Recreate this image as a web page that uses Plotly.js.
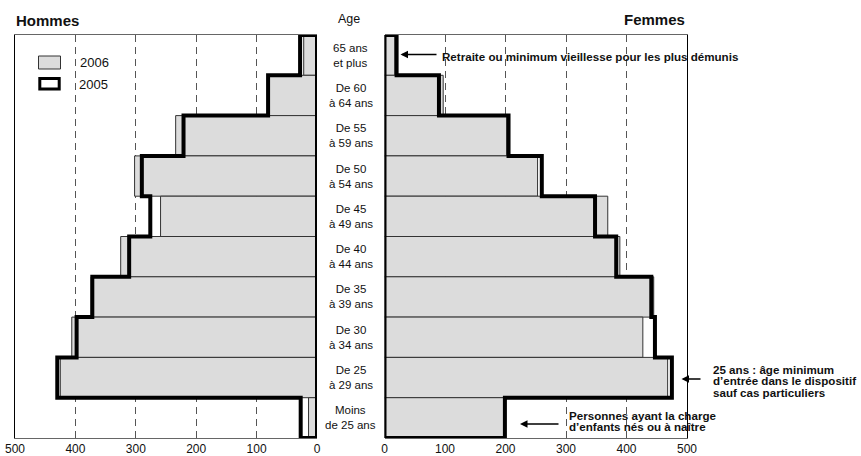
<!DOCTYPE html>
<html>
<head>
<meta charset="utf-8">
<script src="https://cdn.plot.ly/plotly-3.0.1.min.js"></script>
<style>html,body{margin:0;padding:0;background:#fff;}#chart{width:861px;height:456px;}</style>
</head>
<body>
<div id="chart"></div>
<script>
// ---- data ----
const ageLabels = ['65 ans<br>et plus','De 60<br>à 64 ans','De 55<br>à 59 ans','De 50<br>à 54 ans','De 45<br>à 49 ans',
                   'De 40<br>à 44 ans','De 35<br>à 39 ans','De 30<br>à 34 ans','De 25<br>à 29 ans','Moins<br>de 25 ans'];
const hommes2006 = [22, 82, 234, 302, 259, 325, 374, 406, 425, 14];
const hommes2005 = [28, 81, 221, 290, 276, 311, 372, 398, 430, 27];
const femmes2006 = [17, 97, 202, 253, 369, 389, 445, 427, 468, 197];
const femmes2005 = [20, 90, 205, 260, 348, 383, 441, 447, 475, 199];
const tickValues = [0, 100, 200, 300, 400, 500];
const seriesNames = ['2006', '2005'];

// ---- helpers ----
const W = 861, H = 456, ML = 15, MR = 174, MT = 35, MB = 18;
const PW = W - ML - MR, PH = H - MT - MB;
const px = x => (x - ML) / PW;
const py = y => (H - MB - y) / PH;
const rows = ageLabels.map((_, i) => i);

function outline(vals) {
  const xs = [0], ys = [-0.5];
  vals.forEach((v, i) => { xs.push(v, v); ys.push(i - 0.5, i + 0.5); });
  xs.push(0, 0, vals[0]); ys.push(vals.length - 0.5, -0.5, -0.5);
  return {xs, ys};
}

const barStyle = {color: '#dcdcdc', line: {color: '#333', width: 1}};
const h05 = outline(hommes2005), f05 = outline(femmes2005);

const traces = [
  {type: 'bar', orientation: 'h', x: hommes2006, y: rows, width: 1, marker: barStyle, xaxis: 'x', yaxis: 'y', name: seriesNames[0], hoverinfo: 'x'},
  {type: 'bar', orientation: 'h', x: femmes2006, y: rows, width: 1, marker: barStyle, xaxis: 'x2', yaxis: 'y2', name: seriesNames[0], hoverinfo: 'x'},
  {type: 'scatter', mode: 'lines', x: h05.xs, y: h05.ys, line: {color: '#000', width: 4, simplify: false}, cliponaxis: false, xaxis: 'x', yaxis: 'y', name: seriesNames[1], hoverinfo: 'skip'},
  {type: 'scatter', mode: 'lines', x: f05.xs, y: f05.ys, line: {color: '#000', width: 4, simplify: false}, cliponaxis: false, xaxis: 'x2', yaxis: 'y2', name: seriesNames[1], hoverinfo: 'skip'}
];

const xCommon = {
  tickvals: tickValues, ticktext: tickValues.map(String), showgrid: true, gridcolor: '#555', griddash: '7px,5px', gridwidth: 1,
  zeroline: false, showline: true, linecolor: '#666', linewidth: 1, mirror: true, ticks: '', ticklabelstandoff: 0,
  tickfont: {family: 'Liberation Sans, Arial, sans-serif', size: 12, color: '#111'}, fixedrange: true
};
const yCommon = {range: [9.5, -0.5], showgrid: false, zeroline: false, showticklabels: false, ticks: '', showline: true, linecolor: '#000', linewidth: 1, fixedrange: true};

const font = 'Liberation Sans, Arial, sans-serif';
const annotations = [];
// age labels
ageLabels.forEach((t, i) => annotations.push({xref: 'paper', yref: 'y', x: px(350.7), y: i, text: t, showarrow: false,
  font: {family: font, size: 11.5, color: '#111'}, xanchor: 'center', yanchor: 'middle', align: 'center'}));
// titles
annotations.push({xref: 'paper', yref: 'paper', x: px(14), y: py(20.5), text: '<b>Hommes</b>', showarrow: false, xanchor: 'left', yanchor: 'middle', font: {family: font, size: 15, color: '#111'}});
annotations.push({xref: 'paper', yref: 'paper', x: px(687), y: py(20), text: '<b>Femmes</b>', showarrow: false, xanchor: 'right', yanchor: 'middle', font: {family: font, size: 15, color: '#111'}});
annotations.push({xref: 'paper', yref: 'paper', x: px(348.7), y: py(18.5), text: 'Age', showarrow: false, xanchor: 'center', yanchor: 'middle', font: {family: font, size: 12.5, color: '#111'}});
// legend texts
annotations.push({xref: 'paper', yref: 'paper', x: px(78), y: py(62.5), text: seriesNames[0], showarrow: false, xanchor: 'left', yanchor: 'middle', font: {family: font, size: 13, color: '#111'}});
annotations.push({xref: 'paper', yref: 'paper', x: px(77), y: py(84), text: seriesNames[1], showarrow: false, xanchor: 'left', yanchor: 'middle', font: {family: font, size: 13, color: '#111'}});
// notes
const noteFont = {family: font, size: 11.6, color: '#111'};
function note(x, y, t) { annotations.push({xref: 'paper', yref: 'paper', x: px(x), y: py(y), text: '<b>' + t + '</b>', showarrow: false, xanchor: 'left', yanchor: 'middle', font: noteFont, borderpad: 0}); }
function arrow(x1, x2, y) { annotations.push({xref: 'paper', yref: 'paper', x: px(x1), y: py(y), ax: x2 - x1, ay: 0, text: '', showarrow: true, arrowhead: 2, arrowsize: 1, arrowwidth: 1.5, arrowcolor: '#000'}); }
note(441, 56.7, 'Retraite ou minimum vieillesse pour les plus démunis');
arrow(400.5, 438, 54.5);
note(712, 369, '25 ans : âge minimum');
note(712, 380.5, 'd’entrée dans le dispositif');
note(712, 392, 'sauf cas particuliers');
arrow(681.5, 702, 379);
note(568, 415, 'Personnes ayant la charge');
note(568, 426.5, 'd’enfants nés ou à naître');
arrow(520, 560, 424);

const shapes = [
  {type: 'rect', xref: 'paper', yref: 'paper', x0: px(38.5), x1: px(60.5), y0: py(69), y1: py(56), fillcolor: '#dcdcdc', line: {color: '#333', width: 1}},
  {type: 'rect', xref: 'paper', yref: 'paper', x0: px(39.8), x1: px(59.2), y0: py(89), y1: py(78.5), fillcolor: '#fff', line: {color: '#000', width: 3}}
];

const layout = {
  width: W, height: H, margin: {l: ML, r: MR, t: MT, b: MB}, paper_bgcolor: '#fff', plot_bgcolor: '#fff',
  showlegend: false, barmode: 'overlay', bargap: 0,
  xaxis: Object.assign({}, xCommon, {domain: [0, px(317)], range: [500, 0], anchor: 'y'}),
  xaxis2: Object.assign({}, xCommon, {domain: [px(384.5), 1], range: [0, 500], anchor: 'y2'}),
  yaxis: Object.assign({}, yCommon, {anchor: 'x'}),
  yaxis2: Object.assign({}, yCommon, {anchor: 'x2', side: 'right', matches: 'y'}),
  annotations, shapes
};

Plotly.newPlot('chart', traces, layout, {displayModeBar: false, staticPlot: true});
</script>
</body>
</html>
